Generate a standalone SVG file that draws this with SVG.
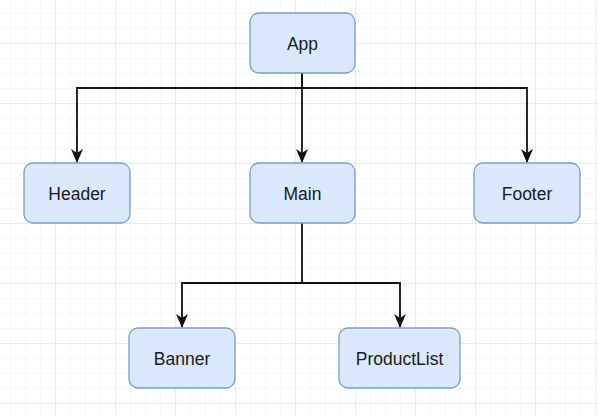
<svg xmlns="http://www.w3.org/2000/svg" width="599" height="416" viewBox="0 0 599 416">
  <style>
    .node rect { fill: #dae8fc; stroke: #7c9cc9; stroke-width: 1.3; }
    .node text { font-family: "Liberation Sans", Arial, sans-serif; font-size: 17.5px; fill: #1a1a1a; text-anchor: middle; dominant-baseline: central; }
    .edge { fill: none; stroke: #111; stroke-width: 1.8; }
  </style>
  <defs>
    <pattern id="minor" x="10" y="13" width="15" height="15" patternUnits="userSpaceOnUse">
      <path d="M0 0H15M0 0V15" fill="none" stroke="#efefef" stroke-width="1"/>
    </pattern>
    <pattern id="major" x="55" y="43" width="60" height="60" patternUnits="userSpaceOnUse">
      <path d="M0 0H60M0 0V60" fill="none" stroke="#e0e0e0" stroke-width="1"/>
    </pattern>
    <marker id="arrow" viewBox="0 0 14 12" refX="13" refY="6" markerWidth="14" markerHeight="12" orient="auto" markerUnits="userSpaceOnUse">
      <path d="M0 0L14 6L0 12L4 6Z" fill="#111"/>
    </marker>
  </defs>
  <rect width="599" height="416" fill="#ffffff"/>
  <rect width="599" height="416" fill="url(#minor)"/>
  <rect width="599" height="416" fill="url(#major)"/>

  <g id="connectors">
    <path class="edge" d="M302 73V88H77V162" marker-end="url(#arrow)"/>
    <path class="edge" d="M302 73V162" marker-end="url(#arrow)"/>
    <path class="edge" d="M302 88H527V162" marker-end="url(#arrow)"/>
    <path class="edge" d="M302 223V283H182V327" marker-end="url(#arrow)"/>
    <path class="edge" d="M302 283H400V327" marker-end="url(#arrow)"/>
  </g>

  <g id="app" class="node">
    <rect x="250" y="13" width="105" height="60" rx="9"/>
    <text x="302.5" y="44">App</text>
  </g>
  <g id="header" class="node">
    <rect x="24" y="163" width="106" height="60" rx="9"/>
    <text x="77" y="194">Header</text>
  </g>
  <g id="main" class="node">
    <rect x="250" y="163" width="105" height="60" rx="9"/>
    <text x="302.5" y="194">Main</text>
  </g>
  <g id="footer" class="node">
    <rect x="474" y="163" width="106" height="60" rx="9"/>
    <text x="527" y="194">Footer</text>
  </g>
  <g id="banner" class="node">
    <rect x="129" y="328" width="106" height="60" rx="9"/>
    <text x="182" y="359">Banner</text>
  </g>
  <g id="productlist" class="node">
    <rect x="339" y="328" width="121" height="60" rx="9"/>
    <text x="399.5" y="359">ProductList</text>
  </g>
</svg>
